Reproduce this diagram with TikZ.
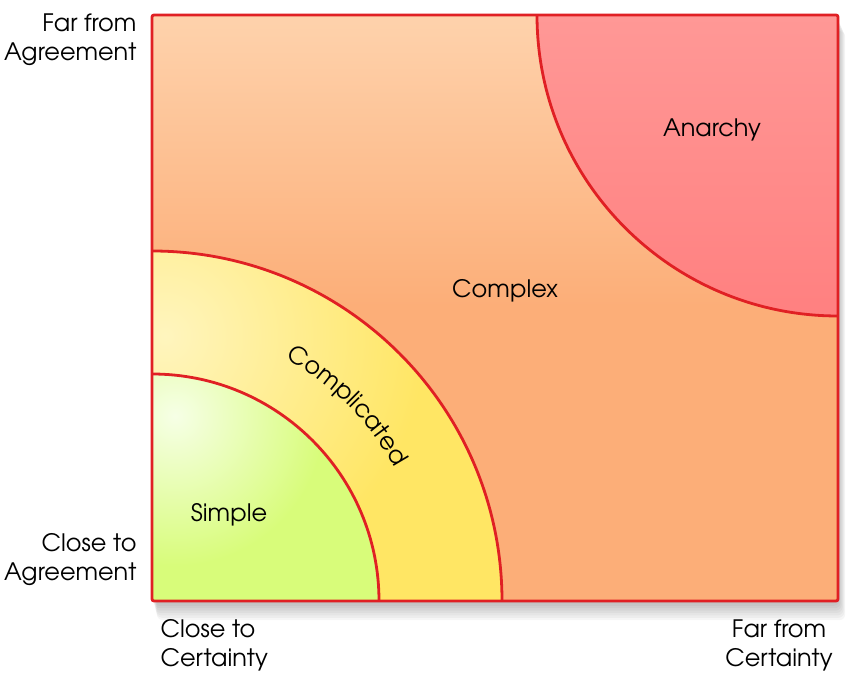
\documentclass[tikz,border=0pt]{standalone}
\usepackage{fontspec}
\setmainfont{TeX Gyre Adventor}
\usepackage{xcolor}
\usetikzlibrary{decorations.text}
\definecolor{edgered}{RGB}{224,32,36}
\definecolor{complexlight}{RGB}{254,210,172}
\definecolor{complexdark}{RGB}{252,174,120}
\definecolor{simplegreen}{RGB}{216,252,122}
\definecolor{simplelight}{RGB}{246,255,230}
\definecolor{compyellow}{RGB}{255,230,100}
\definecolor{complight}{RGB}{255,245,190}
\definecolor{anarchypink}{RGB}{255,128,128}
\definecolor{anarchylight}{RGB}{255,152,150}

\begin{document}
\begin{tikzpicture}[
    x=1pt,y=1pt,
    zone/.style={font=\fontsize{24}{29}\selectfont},
    axislbl/.style={font=\fontsize{24}{29}\selectfont},
    edge/.style={draw=edgered,line width=2.8pt}
  ]
    \useasboundingbox (0,0) rectangle (853,676);

    % soft shadow under the square
    \foreach \i in {1,...,8}
      \fill[black,opacity=0.035,rounded corners=6] (152+\i*0.6,75-\i*2.4) rectangle (838+\i*0.9,661-\i*2);

    % complex (background)
    \fill[complexdark,rounded corners=2] (152,75) rectangle (838,661);
    \shade[top color=complexlight,bottom color=complexdark]
      (153,370) rectangle (837,660);

    % anarchy
    \shade[top color=anarchylight,bottom color=anarchypink]
      (838,661) -- (537,661) arc[start angle=180,end angle=270,radius=301] -- cycle;

    % complicated
    \fill[compyellow] (152,75) -- (502,75) arc[start angle=0,end angle=90,radius=350] -- cycle;
    \begin{scope}
      \clip (152,75) -- (502,75) arc[start angle=0,end angle=90,radius=350] -- cycle;
      \shade[inner color=complight,outer color=compyellow] (165,340) circle (260);
    \end{scope}

    % simple
    \fill[simplegreen] (152,75) -- (379,75) arc[start angle=0,end angle=90,radius=227] -- cycle;
    \begin{scope}
      \clip (152,75) -- (379,75) arc[start angle=0,end angle=90,radius=227] -- cycle;
      \shade[inner color=simplelight,outer color=simplegreen] (175,260) circle (150);
    \end{scope}

    % red boundaries
    \draw[edge] (379,75) arc[start angle=0,end angle=90,radius=227];
    \draw[edge] (502,75) arc[start angle=0,end angle=90,radius=350];
    \draw[edge] (537,661) arc[start angle=180,end angle=270,radius=301];
    \draw[edge,rounded corners=2] (152,75) rectangle (838,661);

    % zone labels
    \node[zone] (anarchy) at (712,546) {Anarchy};
    \node[zone] (complex) at (505,385) {Complex};
    \node[zone] (simple) at (229,161) {Simple};
    \path[decorate,decoration={text along path,text align=center,
        text={|\fontsize{24}{29}\selectfont|Complicated}}]
      (152,75) ++(85:277) arc[start angle=85,end angle=5,radius=277];

    % axis labels
    \node[axislbl,anchor=east,align=right] (farAgree) at (140,636) {Far from\\Agreement};
    \node[axislbl,anchor=east,align=right] (closeAgree) at (140,116) {Close to\\Agreement};
    \node[axislbl,anchor=west,align=left] (closeCert) at (157,31) {Close to\\Certainty};
    \node[axislbl,align=center] (farCert) at (779,31) {Far from\\Certainty};
  \end{tikzpicture}
\end{document}
